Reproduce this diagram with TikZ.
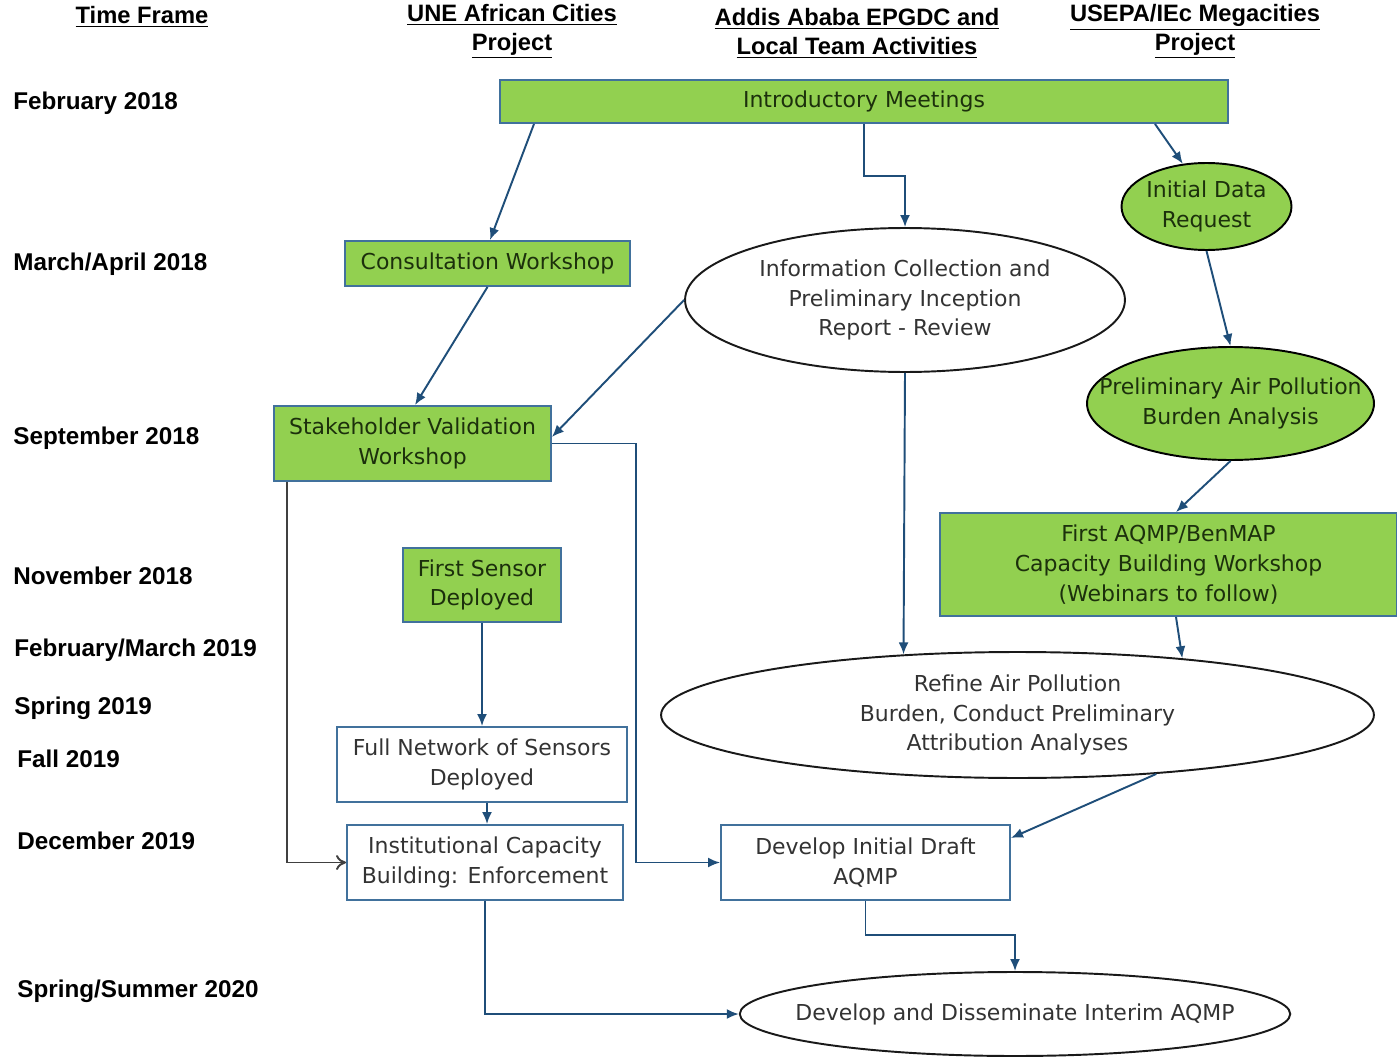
\documentclass[tikz,border=0pt]{standalone}
\usepackage{fontspec}
\setmainfont{DejaVu Sans}
\newfontfamily\hdfont{Liberation Sans}
\usetikzlibrary{arrows.meta,shapes.geometric}
\definecolor{boxgreen}{RGB}{146,208,80}
\definecolor{boxedge}{RGB}{65,113,156}
\definecolor{arrblue}{RGB}{31,78,121}
\definecolor{txtgreen}{RGB}{28,48,12}

\begin{document}
\begin{tikzpicture}[x=0.02cm,y=-0.02cm,
  every node/.style={font=\fontsize{12.5}{17}\selectfont, align=center},
  hd/.style={font=\hdfont\bfseries\fontsize{13.5}{16.5}\selectfont},
  yr/.style={font=\hdfont\bfseries\fontsize{13.8}{16}\selectfont, anchor=west, inner sep=0pt},
  gbox/.style={draw=boxedge, fill=boxgreen, line width=1.1pt, text=txtgreen, inner sep=0pt},
  wbox/.style={draw=boxedge, fill=white, line width=1.1pt, text=black!80, inner sep=0pt},
  gell/.style={ellipse, draw=black, fill=boxgreen, line width=1.1pt, text=txtgreen, inner sep=0pt},
  well/.style={ellipse, draw=black!90, line width=1.1pt, text=black!80, inner sep=0pt},
  arr/.style={draw=arrblue, line width=1.1pt, -{Latex[length=2.4mm,width=2mm]}},
  openarr/.style={draw=black!75, line width=1.1pt, -{To[length=2mm,width=3mm]}}]
   \useasboundingbox (0,0) rectangle (1397,1061);
   % column headers
   \node[hd] (hdtime) at (142,17) {\underline{Time Frame}};
   \node[hd] (hdune) at (512,31.5) {\underline{UNE African Cities}\\\underline{Project}};
   \node[hd] (hdaddis) at (857,33) {\underline{Addis Ababa EPGDC and}\\\underline{Local Team Activities}};
   \node[hd] (hdusepa) at (1195,31.5) {\underline{USEPA/IEc Megacities}\\\underline{Project}};
   % time frame
   \node[yr] (tfeb18) at (13,103) {February 2018};
   \node[yr] (tmar18) at (13,264) {March/April 2018};
   \node[yr] (tsep18) at (13,438) {September 2018};
   \node[yr] (tnov18) at (13,576) {November 2018};
   \node[yr] (tfeb19) at (14,650) {February/March 2019};
   \node[yr] (tspr19) at (14,708) {Spring 2019};
   \node[yr] (tfal19) at (17,759) {Fall 2019};
   \node[yr] (tdec19) at (17,841) {December 2019};
   \node[yr] (tspr20) at (17,991) {Spring/Summer 2020};
   % activities
   \node[gbox, minimum width=14.56cm, minimum height=0.86cm] (intro) at (864,101.5) {Introductory Meetings};
   \node[gbox, minimum width=5.7cm, minimum height=0.9cm] (consult) at (487.5,263.5) {Consultation Workshop};
   \node[gbox, minimum width=5.54cm, minimum height=1.5cm] (stake) at (412.5,443.5) {Stakeholder Validation\\Workshop};
   \node[gbox, minimum width=3.16cm, minimum height=1.48cm] (sensor) at (482,585) {First Sensor\\Deployed};
   \node[wbox, minimum width=5.8cm, minimum height=1.5cm] (netw) at (482,764.5) {Full Network of Sensors\\Deployed};
   \node[wbox, minimum width=5.52cm, minimum height=1.5cm] (inst) at (485,862.5) {Institutional Capacity\\Building: Enforcement};
   \node[wbox, minimum width=5.78cm, minimum height=1.5cm] (draft) at (865.5,862.5) {Develop Initial Draft\\AQMP};
   \node[gbox, minimum width=9.14cm, minimum height=2.06cm] (aqmp) at (1168.5,564.5) {First AQMP/BenMAP\\Capacity Building Workshop\\(Webinars to follow)};
   \node[well, minimum width=8.8cm, minimum height=2.88cm] (info) at (905,300) {Information Collection and\\Preliminary Inception\\Report - Review};
   \node[well, minimum width=14.26cm, minimum height=2.52cm] (refine) at (1017.5,715) {Refine Air Pollution\\Burden, Conduct Preliminary\\Attribution Analyses};
   \node[well, inner xsep=-0.5cm, minimum width=10.96cm, minimum height=1.68cm] (interim) at (1015,1014) {Develop and Disseminate Interim AQMP};
   \node[gell, minimum width=3.38cm, minimum height=1.74cm] (datareq) at (1206.5,206.5) {Initial Data\\Request};
   \node[gell, inner xsep=-0.62cm, minimum width=5.74cm, minimum height=2.26cm] (burden) at (1230.5,403.5) {Preliminary Air Pollution\\Burden Analysis};
   % connectors
   \draw[arr] (534,0 |- intro.south) -- (490,0 |- consult.north);
   \draw[arr] (intro.south) -- (intro.south |- 0,176) -| (info.north);
   \draw[arr] (1155,0 |- intro.south) -- (datareq.119);
   \draw[arr] (consult.south) -- (415,0 |- stake.north);
   \draw[arr] (info.west) -- (stake.east |- 0,437);
   \draw[openarr] (287,0 |- stake.south) |- (inst.west);
   \draw[arr] (stake.east) -- (636,0 |- stake.east) |- (draft.west);
   \draw[arr] (datareq.south) -- (burden.north);
   \draw[arr] (burden.south) -- (1176,0 |- aqmp.north);
   \draw[arr] (info.south) -- (refine.152);
   \draw[arr] (1176,0 |- aqmp.south) -- (refine.19);
   \draw[arr] (sensor.south) -- (netw.north);
   \draw[arr] (487,0 |- netw.south) -- (487,0 |- inst.north);
   \draw[arr] (refine.-23) -- (draft.east |- 0,838);
   \draw[arr] (draft.south) -- (draft.south |- 0,935) -| (interim.north);
   \draw[arr] (inst.south) |- (interim.west);
\end{tikzpicture}
\end{document}
